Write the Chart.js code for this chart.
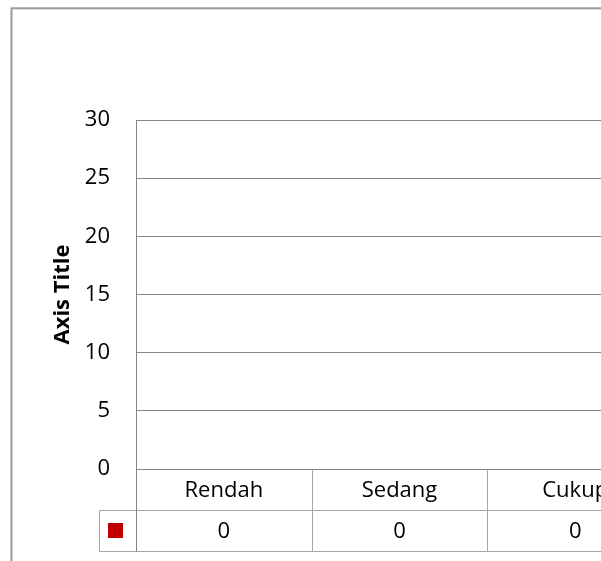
<!DOCTYPE html>
<html>
<head>
<meta charset="utf-8">
<script src="https://cdn.jsdelivr.net/npm/chart.js@4.4.1/dist/chart.umd.min.js"></script>
<style>
  html, body { margin: 0; padding: 0; background: #fff; overflow: hidden; }
  #wrap { width: 680px; height: 561px; }
</style>
</head>
<body>
<div id="wrap"><canvas id="chart" width="680" height="561"></canvas></div>
<script>
// categories and series shown in the data table
const categories = ['Rendah', 'Sedang', 'Cukup'];
const seriesValues = [0, 0, 0];
const yTicks = [0, 5, 10, 15, 20, 25, 30];

const FONT = '"Open Sans", "Liberation Sans", sans-serif';
const GRID = '#868686';
const TABLE = '#a6a6a6';
const SERIES_COLOR = '#c00000';

// frame + data table under the plot, laid out from the x scale
const tablePlugin = {
  id: 'dataTable',
  afterDraw(chart) {
    const ctx = chart.ctx;
    const x = chart.scales.x;
    const y = chart.scales.y;
    const top = Math.round(y.getPixelForValue(0)) + 0.5;
    const rowH = 41;
    const mid = top + rowH;
    const bottom = mid + rowH;
    const keyLeft = 99.5;
    const colW = (x.right - x.left) / categories.length;

    ctx.save();
    // outer chart frame
    ctx.strokeStyle = '#9a9a9a';
    ctx.lineWidth = 2;
    ctx.strokeRect(11.5, 8.3, 662, 600);

    ctx.strokeStyle = TABLE;
    ctx.lineWidth = 1;
    ctx.beginPath();
    ctx.moveTo(x.left, mid); ctx.lineTo(x.right, mid);
    ctx.moveTo(keyLeft, mid); ctx.lineTo(x.left, mid);
    ctx.moveTo(keyLeft, bottom); ctx.lineTo(x.right, bottom);
    ctx.moveTo(keyLeft, mid); ctx.lineTo(keyLeft, bottom);
    for (let i = 1; i <= categories.length; i++) {
      const cx = Math.round(x.left + colW * i) + 0.5;
      ctx.moveTo(cx, top); ctx.lineTo(cx, bottom);
    }
    ctx.stroke();
    // axis line continues down beside the table
    ctx.strokeStyle = GRID;
    ctx.beginPath();
    ctx.moveTo(Math.round(x.left) + 0.5, top);
    ctx.lineTo(Math.round(x.left) + 0.5, bottom);
    ctx.stroke();

    ctx.fillStyle = '#000';
    ctx.font = '22px ' + FONT;
    ctx.textAlign = 'center';
    ctx.textBaseline = 'middle';
    categories.forEach((c, i) => {
      const cx = x.getPixelForValue(i);
      ctx.fillText(c, cx, top + rowH / 2 + 1);
      ctx.fillText(String(seriesValues[i]), cx, mid + rowH / 2 + 1);
    });

    // legend key
    ctx.fillStyle = SERIES_COLOR;
    ctx.fillRect(108, 523, 15, 15);
    ctx.restore();
  }
};

new Chart(document.getElementById('chart'), {
  type: 'bar',
  data: {
    labels: categories,
    datasets: [{
      label: 'Series1',
      data: seriesValues,
      backgroundColor: SERIES_COLOR,
      borderWidth: 0
    }]
  },
  options: {
    responsive: false,
    animation: false,
    layout: { padding: { top: 120, bottom: 92, left: 0, right: 17 } },
    plugins: {
      legend: { display: false },
      tooltip: { enabled: false }
    },
    scales: {
      x: {
        display: false
      },
      y: {
        min: 0,
        max: 30,
        afterFit(scale) { scale.width = 136; },
        afterBuildTicks(scale) { scale.ticks = yTicks.map(v => ({ value: v })); },
        ticks: {
          padding: 26,
          color: '#000',
          font: { family: FONT, size: 22 }
        },
        grid: { color: GRID, drawTicks: false },
        border: { color: GRID },
        title: {
          display: true,
          text: 'Axis Title',
          color: '#000',
          font: { family: FONT, size: 22, weight: 'bold' },
          padding: { top: 50, bottom: 0 }
        }
      }
    }
  },
  plugins: [tablePlugin]
});
</script>
</body>
</html>
